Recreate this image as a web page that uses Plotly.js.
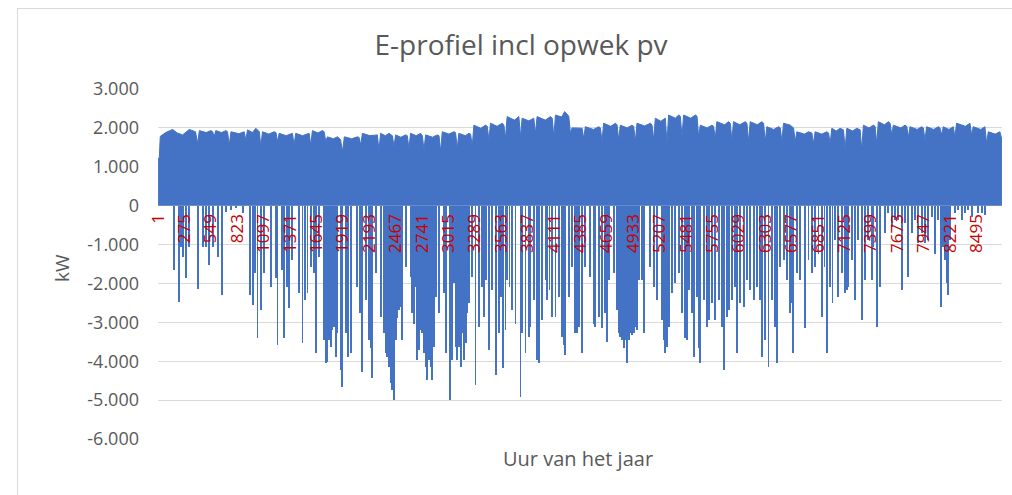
<!DOCTYPE html>
<html>
<head>
<meta charset="utf-8">
<script src="https://cdn.plot.ly/plotly-3.0.1.min.js"></script>
<style>
  html, body { margin: 0; padding: 0; background: #ffffff; }
  #wrap { position: relative; width: 1012px; height: 495px; overflow: hidden; }
  #chart { position: absolute; left: 0; top: 0; width: 1012px; height: 495px; }
  #frame { position: absolute; left: 17px; top: 8px; width: 1000px; height: 500px;
           border-left: 1px solid #d9d9d9; border-top: 1px solid #d9d9d9; pointer-events: none; }
</style>
</head>
<body>
<div id="wrap"><div id="chart"></div><div id="frame"></div></div>
<script>
// Upper envelope of the hourly profile (hour of year, kW)
const topHours = [1, 14, 24, 80, 152, 200, 256, 325, 390, 411, 430, 500, 550, 568, 584, 600, 660, 705, 722, 740, 758, 840, 895, 912, 930, 980, 1016, 1033, 1052, 1068, 1085, 1150, 1206, 1225, 1241, 1258, 1330, 1396, 1413, 1430, 1500, 1569, 1586, 1603, 1660, 1707, 1725, 1742, 1759, 1820, 1863, 1895, 1915, 1935, 2010, 2070, 2088, 2105, 2122, 2200, 2277, 2294, 2311, 2360, 2398, 2433, 2450, 2467, 2520, 2571, 2588, 2605, 2622, 2680, 2726, 2744, 2761, 2778, 2850, 2899, 2917, 2934, 2951, 3020, 3072, 3089, 3106, 3123, 3190, 3227, 3245, 3262, 3279, 3350, 3400, 3418, 3435, 3452, 3520, 3573, 3590, 3607, 3624, 3700, 3746, 3763, 3780, 3850, 3901, 3918, 3935, 4020, 4074, 4092, 4109, 4126, 4190, 4222, 4247, 4264, 4281, 4298, 4402, 4419, 4436, 4520, 4575, 4592, 4609, 4626, 4700, 4748, 4765, 4782, 4799, 4870, 4920, 4938, 4955, 4972, 5050, 5111, 5128, 5145, 5162, 5220, 5266, 5283, 5300, 5370, 5404, 5422, 5439, 5456, 5530, 5577, 5595, 5612, 5629, 5700, 5750, 5767, 5784, 5801, 5880, 5923, 5940, 5957, 5974, 6040, 6095, 6113, 6130, 6147, 6220, 6268, 6286, 6303, 6320, 6390, 6441, 6459, 6476, 6493, 6562, 6597, 6614, 6631, 6710, 6752, 6787, 6804, 6821, 6890, 6942, 6960, 6977, 6994, 7040, 7080, 7115, 7132, 7150, 7210, 7253, 7288, 7305, 7322, 7380, 7426, 7443, 7460, 7477, 7540, 7581, 7599, 7616, 7633, 7710, 7754, 7772, 7789, 7806, 7880, 7927, 7944, 7961, 7978, 8050, 8100, 8117, 8134, 8151, 8210, 8255, 8272, 8289, 8380, 8428, 8445, 8462, 8540, 8583, 8601, 8618, 8690, 8739, 8756, 8760];
const topKW = [1220, 1220, 1780, 1880, 1960, 1870, 1820, 1960, 1900, 1600, 1930, 1880, 1930, 1900, 1770, 1930, 1880, 1930, 1900, 1560, 1900, 1850, 1900, 1690, 1950, 1880, 1990, 1950, 1900, 1520, 1900, 1840, 1900, 1880, 1650, 1860, 1800, 1860, 1560, 1860, 1800, 1860, 1560, 1930, 1870, 1930, 1900, 1650, 1770, 1720, 1770, 1700, 1390, 1770, 1720, 1770, 1750, 1560, 1860, 1800, 1820, 1430, 1860, 1800, 1860, 1800, 1520, 1820, 1760, 1820, 1800, 1470, 1860, 1800, 1860, 1800, 1430, 1820, 1760, 1820, 1800, 1390, 1900, 1840, 1900, 1880, 1470, 1860, 1800, 1860, 1840, 1520, 2070, 1990, 2070, 2040, 1690, 2120, 2040, 2120, 2080, 1730, 2290, 2200, 2290, 1770, 2250, 2180, 2250, 1860, 2290, 2200, 2290, 2250, 1770, 2330, 2280, 2420, 2330, 2300, 1860, 2000, 1990, 1730, 2030, 1960, 2030, 2000, 1650, 2120, 2040, 2120, 2080, 1690, 2070, 2000, 2070, 2040, 1650, 2120, 2050, 2120, 2080, 1690, 2250, 2170, 2250, 1600, 2330, 2250, 2330, 2300, 1770, 2330, 2250, 2330, 2300, 1770, 2070, 2000, 2070, 2040, 1730, 2160, 2080, 2160, 2120, 1690, 2160, 2080, 2160, 2120, 1650, 2160, 2080, 2160, 2120, 1650, 2030, 1960, 2030, 2000, 1650, 2120, 2070, 2000, 1650, 1900, 1840, 1900, 1870, 1600, 1900, 1840, 1900, 1870, 1600, 1990, 1920, 1990, 1950, 1470, 1990, 1920, 1990, 1950, 1430, 2070, 2000, 2070, 2040, 1600, 2160, 2080, 2160, 2120, 1820, 2070, 2000, 2070, 2040, 1770, 2030, 1960, 2030, 2000, 1690, 2030, 1960, 2030, 2000, 1820, 2030, 1960, 2030, 1770, 2120, 2040, 2120, 1820, 2030, 1960, 2030, 1600, 1900, 1840, 1900, 1690, 1690];

// Negative hours (PV surplus): hour of year and minimum kW
const dipHours = [169, 214, 239, 263, 290, 325, 418, 463, 498, 532, 567, 619, 660, 705, 757, 809, 878, 954, 988, 1009, 1033, 1068, 1102, 1172, 1223, 1241, 1286, 1310, 1344, 1362, 1396, 1465, 1500, 1527, 1552, 1586, 1621, 1645, 1673, 1725, 1742, 1759, 1776, 1794, 1811, 1828, 1845, 1863, 1897, 1915, 1949, 1977, 2001, 2070, 2094, 2122, 2156, 2191, 2208, 2225, 2260, 2312, 2346, 2363, 2381, 2398, 2415, 2432, 2450, 2467, 2484, 2502, 2519, 2536, 2571, 2622, 2640, 2657, 2674, 2692, 2709, 2726, 2743, 2761, 2778, 2795, 2813, 2830, 2847, 2864, 2882, 2916, 2968, 2985, 3027, 3054, 3072, 3089, 3106, 3124, 3141, 3158, 3175, 3193, 3210, 3227, 3262, 3296, 3331, 3365, 3383, 3400, 3435, 3469, 3504, 3538, 3556, 3580, 3607, 3625, 3649, 3676, 3711, 3763, 3780, 3815, 3849, 3867, 3901, 3936, 3953, 3988, 4022, 4039, 4064, 4091, 4126, 4160, 4195, 4212, 4229, 4264, 4298, 4333, 4350, 4368, 4402, 4437, 4489, 4523, 4540, 4575, 4609, 4644, 4661, 4679, 4730, 4765, 4782, 4800, 4817, 4834, 4851, 4869, 4886, 4903, 4920, 4938, 4955, 4972, 4990, 5024, 5041, 5111, 5145, 5180, 5231, 5249, 5266, 5283, 5301, 5335, 5370, 5404, 5439, 5473, 5491, 5508, 5542, 5560, 5594, 5612, 5629, 5663, 5698, 5715, 5750, 5784, 5819, 5853, 5871, 5905, 5923, 5957, 5992, 6009, 6044, 6078, 6113, 6147, 6182, 6216, 6251, 6268, 6303, 6337, 6372, 6406, 6424, 6458, 6493, 6527, 6562, 6579, 6596, 6631, 6666, 6717, 6752, 6786, 6821, 6856, 6890, 6918, 6942, 6977, 7001, 7028, 7063, 7097, 7132, 7149, 7167, 7201, 7236, 7270, 7312, 7339, 7374, 7408, 7426, 7460, 7495, 7547, 7581, 7616, 7650, 7685, 7719, 7754, 7789, 7823, 7858, 7892, 7927, 7961, 7996, 8031, 8065, 8100, 8127, 8151, 8169, 8186, 8203, 8221, 8272, 8307, 8342, 8376, 8411, 8445, 8514, 8549, 8583];
const dipKW = [-1650, -2470, -1050, -1310, -1870, -1050, -2130, -1050, -1050, -1530, -1050, -1310, -2300, -150, -110, -70, -200, -2300, -2550, -1740, -3410, -2680, -1740, -2080, -1870, -3580, -1650, -3410, -2080, -2640, -1400, -2250, -3540, -2430, -2250, -1570, -1740, -3800, -1310, -3450, -4050, -4010, -3450, -3630, -3200, -3110, -3880, -3280, -4230, -4650, -3280, -3880, -3800, -2080, -2770, -4270, -2430, -3450, -3670, -4440, -1740, -2850, -3280, -3800, -3880, -4140, -4570, -4740, -5000, -3450, -2900, -2680, -2600, -3450, -1570, -1830, -2770, -3030, -2080, -3970, -3710, -3200, -3280, -3800, -4140, -4480, -3970, -4140, -4480, -3630, -2340, -2770, -2250, -3800, -5000, -3970, -2000, -3630, -3970, -3630, -4140, -3280, -3970, -3540, -2770, -2510, -1830, -4610, -3110, -2080, -2850, -1910, -3710, -2170, -4350, -3280, -2340, -4180, -3200, -1910, -2080, -2680, -3030, -4910, -3280, -3800, -3370, -3110, -2430, -3970, -4050, -2940, -1910, -2430, -2170, -2850, -2850, -2340, -3370, -3580, -3840, -2340, -1570, -3280, -3280, -3110, -3800, -1570, -1830, -3030, -3110, -2850, -3150, -2770, -3500, -1910, -1740, -2680, -3280, -3370, -3450, -3670, -3450, -4050, -3450, -3280, -3330, -3280, -3110, -3200, -1910, -1910, -3280, -1570, -2080, -2430, -2940, -3450, -3800, -3630, -3110, -2250, -2000, -1740, -2770, -3410, -3450, -2170, -2770, -3880, -2340, -3670, -4050, -2430, -3110, -2940, -2510, -2940, -2430, -3110, -4230, -2850, -2680, -2430, -2080, -3800, -2510, -2600, -1910, -2170, -2430, -2080, -2430, -3880, -3450, -4140, -2430, -3110, -4050, -1570, -1400, -1910, -2770, -2510, -3800, -1740, -1910, -3150, -1400, -1740, -1570, -1230, -2850, -1570, -3800, -2080, -2510, -880, -2340, -1740, -2250, -2170, -2080, -1400, -2430, -880, -2940, -1910, -880, -1910, -1050, -3110, -2080, -710, -200, -540, -370, -370, -2170, -450, -1830, -710, -370, -970, -710, -970, -880, -280, -1230, -370, -2600, -1050, -1400, -2000, -2300, -880, -200, -110, -370, -200, -110, -280, -200, -200, -240];

// Category tick labels (every 274 hours)
const xTickHours = [1, 275, 549, 823, 1097, 1371, 1645, 1919, 2193, 2467, 2741, 3015, 3289, 3563, 3837, 4111, 4385, 4659, 4933, 5207, 5481, 5755, 6029, 6303, 6577, 6851, 7125, 7399, 7673, 7947, 8221, 8495];
const yTickVals = [3000, 2000, 1000, 0, -1000, -2000, -3000, -4000, -5000, -6000];
const yTickText = ['3.000', '2.000', '1.000', '0', '-1.000', '-2.000', '-3.000', '-4.000', '-5.000', '-6.000'];

const BLUE = '#4472C4';
const GREY = '#595959';
const FONT = 'Open Sans';

const traces = [
  {
    type: 'scatter', mode: 'lines',
    x: topHours, y: topKW,
    fill: 'tozeroy', fillcolor: BLUE,
    line: { color: BLUE, width: 1 },
    hoverinfo: 'skip', showlegend: false
  },
  {
    type: 'bar',
    x: dipHours, y: dipKW, base: 0,
    width: 20,
    marker: { color: BLUE, line: { width: 0 } },
    hoverinfo: 'skip', showlegend: false
  }
];

const layout = {
  width: 1012, height: 495,
  margin: { l: 158, r: 10, t: 89, b: 56, pad: 0 },
  paper_bgcolor: '#ffffff', plot_bgcolor: '#ffffff',
  showlegend: false,
  hovermode: false,
  bargap: 0,
  title: {
    text: 'E-profiel incl opwek pv',
    font: { family: FONT, size: 28, color: GREY },
    x: 521 / 1012, xref: 'container', xanchor: 'center',
    y: 1 - 45 / 495, yref: 'container', yanchor: 'middle'
  },
  xaxis: {
    range: [0.5, 8760.5],
    anchor: 'free', position: 6000 / 9000,
    tickmode: 'array', tickvals: xTickHours, ticktext: xTickHours.map(String),
    tickangle: -90,
    tickfont: { family: FONT, size: 17, color: '#c80000' },
    ticks: '', ticklabelstandoff: 4,
    showgrid: false, zeroline: false, showline: false,
    fixedrange: true
  },
  yaxis: {
    range: [-6000, 3000],
    tickmode: 'array', tickvals: yTickVals, ticktext: yTickText,
    tickfont: { family: FONT, size: 18, color: GREY },
    ticks: '', ticklabelstandoff: 18,
    showgrid: true, gridcolor: '#d9d9d9', gridwidth: 1,
    zeroline: false, showline: false,
    fixedrange: true
  },
  annotations: [
    {
      text: 'Uur van het jaar', showarrow: false,
      xref: 'paper', yref: 'paper',
      x: (578 - 158) / 844, y: (439 - 458) / 350,
      xanchor: 'center', yanchor: 'middle',
      font: { family: FONT, size: 20, color: GREY }
    },
    {
      text: 'kW', showarrow: false, textangle: -90,
      xref: 'paper', yref: 'paper',
      x: (62 - 158) / 844, y: (439 - 268) / 350,
      xanchor: 'center', yanchor: 'middle',
      font: { family: FONT, size: 19, color: GREY }
    }
  ]
};

Plotly.newPlot('chart', traces, layout, { displayModeBar: false, staticPlot: true });
</script>
</body>
</html>
